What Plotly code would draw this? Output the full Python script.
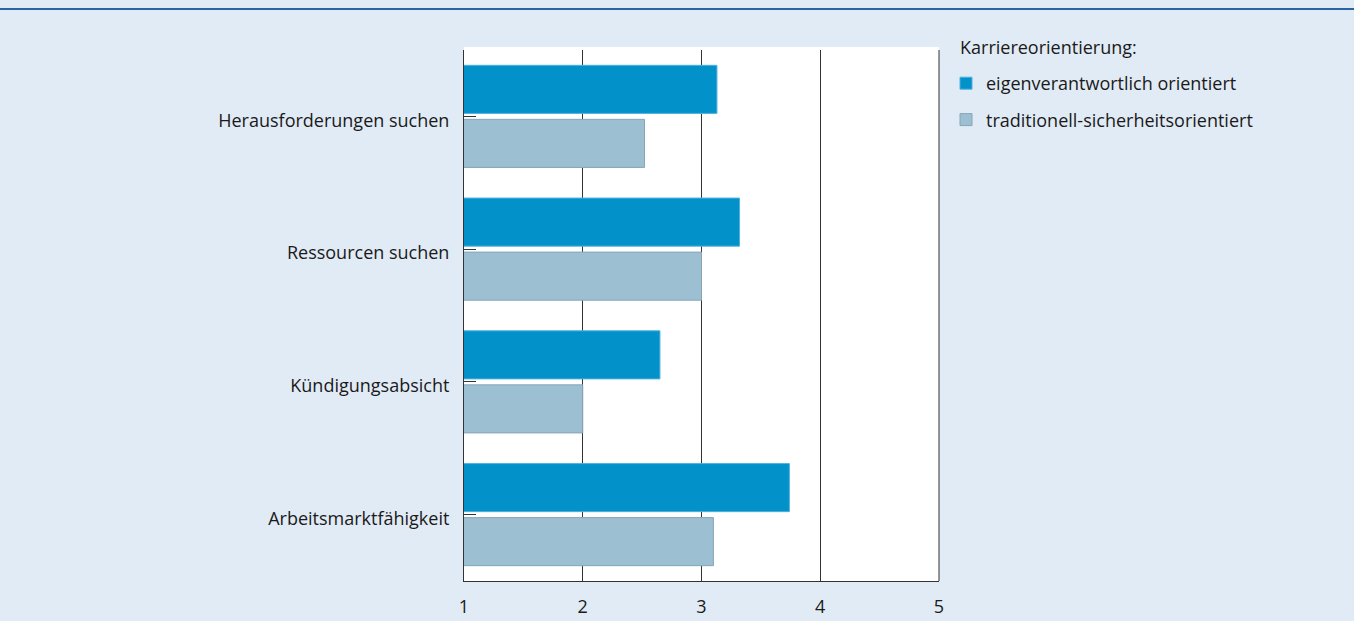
import plotly.graph_objects as go

# Data
categories = ["Herausforderungen suchen", "Ressourcen suchen", "Kündigungsabsicht", "Arbeitsmarktfähigkeit"]
eigenverantwortlich = [3.13, 3.32, 2.65, 3.74]
traditionell = [2.52, 3.00, 2.00, 3.10]
x_ticks = [1, 2, 3, 4, 5]

W, H = 1354, 621
M_L, M_R, M_T, M_B = 464, 415, 50, 40
BG = "#e1ebf6"
FONT = "Open Sans, Noto Sans, sans-serif"
FS = 18

fig = go.Figure()
fig.add_trace(go.Bar(
    y=categories, x=eigenverantwortlich, orientation="h",
    name="eigenverantwortlich orientiert", legendgroup="a",
    marker=dict(color="#0391c9", line=dict(color="#4db2e0", width=1)),
))
fig.add_trace(go.Bar(
    y=categories, x=traditionell, orientation="h",
    name="traditionell-sicherheitsorientiert", legendgroup="b",
    marker=dict(color="#9dbfd2", line=dict(color="#86a6b8", width=1)),
))

plot_w = W - M_L - M_R
plot_h = H - M_T - M_B


def py(px):
    """Paper y coordinate for a pixel row measured from the top of the page."""
    return 1 + (M_T - px) / plot_h


# Horizontal rule across the top of the figure
fig.add_shape(
    type="line", xref="paper", yref="paper",
    x0=-M_L / plot_w, x1=(W - M_L) / plot_w, y0=py(9), y1=py(9),
    line=dict(color="#2a64a3", width=2),
)

# White panel reaches a little above the axis domain
fig.add_shape(type="rect", xref="paper", yref="paper", x0=0, x1=1, y0=1, y1=py(47),
              fillcolor="white", line=dict(width=0), layer="below")

# Right border of the plotting area
fig.add_shape(type="line", xref="paper", yref="paper", x0=1, x1=1, y0=0, y1=1,
              line=dict(color="#333333", width=1))

# Legend heading
fig.add_annotation(
    text="Karriereorientierung:", xref="paper", yref="paper",
    x=(958 - M_L) / plot_w, y=py(47),
    xanchor="left", yanchor="middle", showarrow=False,
    font=dict(size=FS, family=FONT, color="#1a1a1a"),
)

fig.update_layout(
    width=W, height=H,
    margin=dict(l=M_L, r=M_R, t=M_T, b=M_B, autoexpand=False),
    paper_bgcolor=BG, plot_bgcolor="white",
    font=dict(family=FONT, size=FS, color="#1a1a1a"),
    barmode="group", bargap=0.186, bargroupgap=0.11,
    showlegend=True,
    legend=dict(
        x=(946 - M_L) / plot_w, y=py(65),
        xanchor="left", yanchor="top",
        bgcolor="rgba(0,0,0,0)", traceorder="grouped", tracegroupgap=10,
        font=dict(size=FS),
    ),
    xaxis=dict(
        range=[1, 5], tickvals=x_ticks, ticktext=[str(v) for v in x_ticks],
        showgrid=True, gridcolor="#333333", gridwidth=1,
        showline=True, linecolor="#333333", linewidth=1, mirror=False,
        zeroline=False, ticks="", ticklabelstandoff=9, automargin=False,
        fixedrange=True,
    ),
    yaxis=dict(
        autorange="reversed", automargin=False,
        showline=True, linecolor="#333333", linewidth=1,
        ticks="inside", ticklen=12, tickcolor="#333333",
        showgrid=False, ticklabelstandoff=10, ticklabelshift=-4,
        fixedrange=True,
    ),
)

fig.write_html("out.html")
